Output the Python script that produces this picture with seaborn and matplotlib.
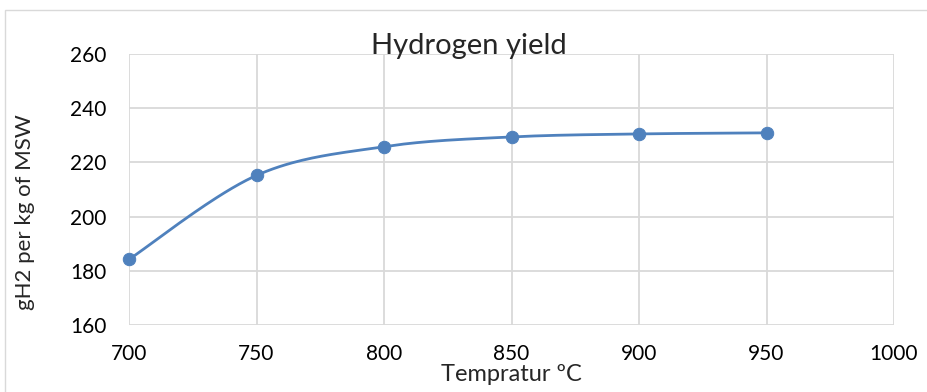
import numpy as np
import pandas as pd
import matplotlib
matplotlib.use("Agg")
import matplotlib.pyplot as plt
import seaborn as sns
from matplotlib.patches import Rectangle

temperature = [700, 750, 800, 850, 900, 950]
h2_yield = [184.2, 215.2, 225.8, 229.4, 230.5, 230.9]
x_ticks = [700, 750, 800, 850, 900, 950, 1000]
y_ticks = [160, 180, 200, 220, 240, 260]

sns.set_theme(style="white")
plt.rcParams['font.family'] = ['Lato', 'DejaVu Sans']

# Excel-style smoothed line (Catmull-Rom -> cubic Bezier through the data points)
def smooth(xs, ys, n=40):
    P = np.column_stack([xs, ys]).astype(float)
    out = []
    for i in range(len(P) - 1):
        p0 = P[i - 1] if i > 0 else P[i]
        p1, p2 = P[i], P[i + 1]
        p3 = P[i + 2] if i + 2 < len(P) else P[i + 1]
        c1 = p1 + (p2 - p0) / 6
        c2 = p2 - (p3 - p1) / 6
        t = np.linspace(0, 1, n)[:, None]
        seg = (1 - t) ** 3 * p1 + 3 * (1 - t) ** 2 * t * c1 + 3 * (1 - t) * t ** 2 * c2 + t ** 3 * p2
        out.append(seg if i == 0 else seg[1:])
    return np.vstack(out)

curve = smooth(temperature, h2_yield)
df_curve = pd.DataFrame({"x": curve[:, 0], "y": curve[:, 1]})
df_pts = pd.DataFrame({"x": temperature, "y": h2_yield})

fig = plt.figure(figsize=(9.27, 3.92), dpi=100)
fig.patches.append(Rectangle((5 / 927, -0.01), 1.0, 1 - 10 / 392 + 0.01, transform=fig.transFigure,
                             fill=False, edgecolor="#d9d9d9", linewidth=1))
L, R, T, B = 129, 894, 54, 325
ax = fig.add_axes([L / 927, 1 - B / 392, (R - L) / 927, (B - T) / 392])

color = "#4f81bd"
sns.lineplot(data=df_curve, x="x", y="y", ax=ax, color=color, linewidth=2, sort=False, estimator=None)
sns.scatterplot(data=df_pts, x="x", y="y", ax=ax, color=color, s=80, edgecolor=color, zorder=5)
for coll in ax.collections:
    coll.set_clip_on(False)

ax.set_xlim(700, 1000)
ax.set_ylim(160, 260)
ax.set_xticks(x_ticks)
ax.set_yticks(y_ticks)
ax.grid(True, color="#d9d9d9", linewidth=1.3)
for s in ax.spines.values():
    s.set_visible(False)
ax.tick_params(axis="both", length=0, labelsize=15, colors="black")
ax.tick_params(axis="y", pad=16)
ax.tick_params(axis="x", pad=14)
ax.set_xlabel("Tempratur ºC", fontsize=17, labelpad=0)
ax.set_ylabel("gH2 per kg of MSW", fontsize=16)
ax.yaxis.set_label_coords((35 - L) / (R - L), (B - 212) / (B - T))
ax.set_title("Hydrogen yield", fontsize=21, pad=0, x=(469 - L) / (R - L))
ax.set_axisbelow(True)

fig.savefig("out.png", dpi=100)
